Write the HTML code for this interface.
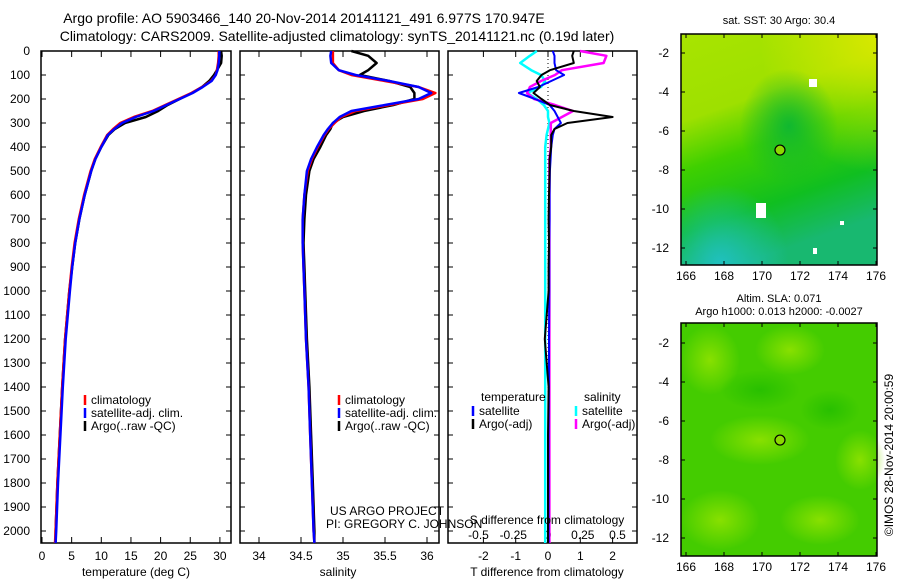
<!DOCTYPE html>
<html><head><meta charset="utf-8">
<style>
html,body{margin:0;padding:0;background:#fff;}
svg{display:block;font-family:"Liberation Sans",sans-serif;}
</style></head>
<body>
<svg id="fig" width="900" height="580" viewBox="0 0 900 580" xmlns="http://www.w3.org/2000/svg">
<defs>
<linearGradient id="sstg" x1="0" y1="0" x2="0.3" y2="1">
<stop offset="0" stop-color="#a8e400"/><stop offset="0.35" stop-color="#9ee000"/><stop offset="0.55" stop-color="#3fd000"/><stop offset="0.8" stop-color="#10bf20"/><stop offset="1" stop-color="#18b870"/>
</linearGradient>
<radialGradient id="sstTR" cx="1" cy="0" r="0.6"><stop offset="0" stop-color="#d8e800"/><stop offset="1" stop-color="#d8e800" stop-opacity="0"/></radialGradient>
<radialGradient id="sstC" cx="0.55" cy="0.4" r="0.25"><stop offset="0" stop-color="#10b830"/><stop offset="1" stop-color="#10b830" stop-opacity="0"/></radialGradient>
<radialGradient id="sstBL" cx="0.2" cy="1" r="0.35"><stop offset="0" stop-color="#20c0c0"/><stop offset="1" stop-color="#20c0c0" stop-opacity="0"/></radialGradient>
<radialGradient id="slaBlob" cx="0.5" cy="0.5" r="0.5"><stop offset="0" stop-color="#88e000"/><stop offset="1" stop-color="#88e000" stop-opacity="0"/></radialGradient>
<radialGradient id="slaDark" cx="0.5" cy="0.5" r="0.5"><stop offset="0" stop-color="#28c000"/><stop offset="1" stop-color="#28c000" stop-opacity="0"/></radialGradient>
</defs>

<text x="304" y="23" font-size="14" text-anchor="middle">Argo profile: AO 5903466_140 20-Nov-2014 20141121_491 6.977S 170.947E</text>
<text x="337" y="41" font-size="14" text-anchor="middle">Climatology: CARS2009. Satellite-adjusted climatology: synTS_20141121.nc (0.19d later)</text>

<g id="panels"></g>

<g>
<rect x="681" y="34" width="196" height="231" fill="url(#sstg)"/>
<rect x="681" y="34" width="196" height="231" fill="url(#sstTR)"/>
<rect x="681" y="34" width="196" height="231" fill="url(#sstC)"/>
<rect x="681" y="34" width="196" height="231" fill="url(#sstBL)"/>
<rect x="809" y="79" width="8" height="8" fill="#fff"/>
<rect x="756" y="203" width="10" height="15" fill="#fff"/>
<rect x="813" y="248" width="4" height="6" fill="#fff"/>
<rect x="840" y="221" width="4" height="4" fill="#fff"/>
<text x="779" y="24" font-size="11" text-anchor="middle">sat. SST: 30 Argo: 30.4</text>
</g>
<g>
<rect x="681" y="323" width="196" height="233" fill="#44cc00"/>
<ellipse cx="710" cy="360" rx="30" ry="35" fill="url(#slaBlob)"/>
<ellipse cx="790" cy="350" rx="35" ry="25" fill="url(#slaBlob)"/>
<ellipse cx="760" cy="440" rx="50" ry="25" fill="url(#slaBlob)"/>
<ellipse cx="860" cy="460" rx="25" ry="30" fill="url(#slaBlob)"/>
<ellipse cx="720" cy="520" rx="40" ry="30" fill="url(#slaBlob)"/>
<ellipse cx="820" cy="520" rx="40" ry="25" fill="url(#slaBlob)"/>
<ellipse cx="760" cy="390" rx="40" ry="20" fill="url(#slaDark)"/>
<ellipse cx="830" cy="410" rx="30" ry="20" fill="url(#slaDark)"/>
<text x="779" y="302" font-size="11" text-anchor="middle">Altim. SLA: 0.071</text>
<text x="779" y="315" font-size="11" text-anchor="middle">Argo h1000: 0.013 h2000: -0.0027</text>
</g>
<g id="maps"></g>

<text x="330" y="515" font-size="12">US ARGO PROJECT</text>
<text x="326" y="528" font-size="12">PI: GREGORY C. JOHNSON</text>
<text transform="translate(893,455) rotate(-90)" font-size="12" text-anchor="middle">©IMOS 28-Nov-2014 20:00:59</text>
</svg>

<script>
const depths = [0,20,50,80,100,125,150,175,200,225,250,275,300,325,350,400,450,500,600,700,800,900,1000,1200,1400,1600,1800,2000,2050];
const tempClim = [29.8,29.8,29.7,29.5,29.3,28.5,27.0,25.2,23.0,20.8,18.6,15.5,13.2,12.0,11.0,9.9,8.9,8.2,7.1,6.2,5.5,5.0,4.6,3.9,3.4,3.0,2.6,2.3,2.2];
const tempSat = [29.9,29.9,29.8,29.6,29.3,28.6,27.1,25.4,23.2,21.0,18.8,15.8,13.5,12.2,11.1,10.0,9.0,8.3,7.2,6.3,5.6,5.1,4.7,4.0,3.5,3.1,2.7,2.4,2.3];
const tempArgo = [30.2,30.3,30.2,29.5,29.0,28.2,27.0,25.3,23.2,21.2,19.6,17.5,14.0,12.3,11.2,10.0,9.0,8.3,7.2,6.3,5.6,5.1,4.6,3.9,3.4,3.0,2.6,2.3,2.3];
const salClim = [34.88,34.88,34.88,34.95,35.1,35.5,35.9,36.1,35.95,35.55,35.15,34.98,34.9,34.83,34.78,34.7,34.63,34.58,34.54,34.52,34.52,34.53,34.54,34.56,34.59,34.61,34.63,34.65,34.66];
const salSat = [34.86,34.85,34.86,34.95,35.15,35.55,35.9,36.05,35.9,35.5,35.1,34.96,34.88,34.82,34.77,34.69,34.62,34.57,34.54,34.52,34.52,34.53,34.54,34.56,34.59,34.61,34.63,34.65,34.66];
const salArgo = [35.1,35.3,35.4,35.3,35.2,35.55,35.8,35.85,35.85,35.6,35.25,35.0,34.88,34.85,34.8,34.73,34.65,34.6,34.56,34.54,34.53,34.54,34.55,34.57,34.6,34.62,34.64,34.66,34.66];
const tDiffSat = [0.15,0.2,0.2,0.25,0.5,0.1,-0.3,-0.9,-0.4,0.05,0.2,0.3,0.4,0.2,0.15,0.1,0.08,0.06,0.05,0.05,0.04,0.04,0.04,0.03,0.03,0.02,0.02,0.02,0.02];
const tDiffArgo = [0.8,0.75,0.8,0.06,-0.2,-0.35,-0.25,-0.45,-0.2,0.06,0.8,2.0,0.6,0.2,0.1,0.1,0.05,0.05,0.03,0.02,0.03,0.02,0.02,-0.1,0.02,0.0,0.0,0.0,0.0];
const sDiffSat = [-0.08,-0.13,-0.2,-0.12,-0.05,-0.02,-0.05,-0.15,-0.08,-0.03,0.0,0.0,0.01,0.0,-0.01,-0.02,-0.02,-0.02,-0.02,-0.02,-0.02,-0.02,-0.02,-0.02,-0.02,-0.02,-0.02,-0.02,-0.02];
const sDiffArgo = [0.23,0.42,0.4,0.1,0.05,-0.05,-0.13,-0.15,-0.1,0.05,0.18,0.1,0.02,0.02,0.02,0.02,0.01,0.01,0.01,0.01,0.01,0.01,0.01,0.01,0.01,0.01,0.01,0.01,0.01];
const depthTicks = [0,100,200,300,400,500,600,700,800,900,1000,1100,1200,1300,1400,1500,1600,1700,1800,1900,2000];
const tempTicks = [0,5,10,15,20,25,30];
const salTicks = [34,34.5,35,35.5,36];
const tDiffTicks = [-2,-1,0,1,2];
const sDiffTicks = [-0.5,-0.25,0,0.25,0.5];
const sDiffTickLabels = ['-0.5','-0.25','0','0.25','0.5'];
const lonTicks = [166,168,170,172,174,176];
const latTicks = [-2,-4,-6,-8,-10,-12];
const argoLon = 170.947, argoLat = -6.977;

const NS = 'http://www.w3.org/2000/svg';
const yD = d => 51 + d * 0.24;
const xT = t => 42 + t * 5.93;
const xS = s => 259 + (s - 34) * 84;
const xTD = v => 548 + v * 32.3;
const xSD = v => 548 + v * 139;
const root = document.getElementById('panels');
function mk(tag, attrs, parent){ const e=document.createElementNS(NS,tag); for(const k in attrs) e.setAttribute(k,attrs[k]); (parent||root).appendChild(e); return e; }

function frame(x0,x1,name){
  const g = mk('g',{});
  
  
  mk('rect',{x:x0,y:51,width:x1-x0,height:492,fill:'none',stroke:'#000','stroke-width':1.5},g);
  depthTicks.forEach(d=>{ mk('line',{x1:x0,x2:x0+5,y1:yD(d),y2:yD(d),stroke:'#000'},g); mk('line',{x1:x1-5,x2:x1,y1:yD(d),y2:yD(d),stroke:'#000'},g); });
  return g;
}
function xticks(g,ticks,labels,fx,y){
  ticks.forEach((t,i)=>{ const x=fx(t);
    mk('line',{x1:x,x2:x,y1:51,y2:57,stroke:'#000'},g); mk('line',{x1:x,x2:x,y1:537,y2:543,stroke:'#000'},g);
    const tx=mk('text',{x:x,y:y,'font-size':12,'text-anchor':'middle'},g); tx.textContent=labels[i];
    
    
  });
}
function line(vals,fx,color,w,name,g){
  const pts = vals.map((v,i)=>fx(v).toFixed(1)+','+yD(depths[i]).toFixed(1)).join(' ');
  const p = mk('polyline',{points:pts,fill:'none',stroke:color,'stroke-width':w,'stroke-linejoin':'round'},g);
  
  
}
function legend(g,x,y,items){
  items.forEach((it,i)=>{ const yy=y+i*13;
    mk('line',{x1:x,x2:x,y1:yy-9,y2:yy+1,stroke:it[1],'stroke-width':2.5},g);
    const t=mk('text',{x:x+6,y:yy,'font-size':12},g); t.textContent=it[0];
    
    
  });
}

const g1 = frame(41,231,'temperature-panel');
depthTicks.forEach(d=>{ const t=mk('text',{x:30,y:yD(d)+4,'font-size':12,'text-anchor':'end'},g1); t.textContent=d;
  
   });
xticks(g1,tempTicks,tempTicks.map(String),xT,560);
line(tempArgo,xT,'#000',2.5,'temp-argo-line',g1);
line(tempClim,xT,'#f00',2.5,'temp-climatology-line',g1);
line(tempSat,xT,'#00f',2.5,'temp-satellite-line',g1);
legend(g1,85,404,[['climatology','#f00'],['satellite-adj. clim.','#00f'],['Argo(..raw -QC)','#000']]);
const l1=mk('text',{x:136,y:576,'font-size':12,'text-anchor':'middle'},g1); l1.textContent='temperature (deg C)';



const g2 = frame(240,439,'salinity-panel');
xticks(g2,salTicks,['34','34.5','35','35.5','36'],xS,560);
line(salArgo,xS,'#000',2.5,'sal-argo-line',g2);
line(salClim,xS,'#f00',2.5,'sal-climatology-line',g2);
line(salSat,xS,'#00f',2.5,'sal-satellite-line',g2);
legend(g2,339,404,[['climatology','#f00'],['satellite-adj. clim.','#00f'],['Argo(..raw -QC)','#000']]);
const l2=mk('text',{x:338,y:576,'font-size':12,'text-anchor':'middle'},g2); l2.textContent='salinity';



const g3 = frame(448,637,'difference-panel');
xticks(g3,tDiffTicks,tDiffTicks.map(String),xTD,560);
sDiffTicks.forEach((t,i)=>{ const tx=mk('text',{x:xSD(t),y:539,'font-size':12,'text-anchor':'middle'},g3); tx.textContent=sDiffTickLabels[i];
  
   });
mk('line',{x1:xTD(0),x2:xTD(0),y1:51,y2:543,stroke:'#000','stroke-dasharray':'1,3'},g3);
line(sDiffSat,xSD,'#0ff',2.5,'s-diff-satellite-line',g3);
line(sDiffArgo,xSD,'#f0f',2.5,'s-diff-argo-line',g3);
line(tDiffSat,xTD,'#00f',2,'t-diff-satellite-line',g3);
line(tDiffArgo,xTD,'#000',2,'t-diff-argo-line',g3);
const lt=mk('text',{x:481,y:401,'font-size':12},g3); lt.textContent='temperature';


const ls=mk('text',{x:584,y:401,'font-size':12},g3); ls.textContent='salinity';


legend(g3,473,415,[['satellite','#00f'],['Argo(-adj)','#000']]);
legend(g3,576,415,[['satellite','#0ff'],['Argo(-adj)','#f0f']]);
const l3=mk('text',{x:547,y:524,'font-size':12,'text-anchor':'middle'},g3); l3.textContent='S difference from climatology';


const l4=mk('text',{x:547,y:576,'font-size':12,'text-anchor':'middle'},g3); l4.textContent='T difference from climatology';



const mroot = document.getElementById('maps');
function mapFrame(y0,y1,latTop,pxPerLat,name){
  const g = mk('g',{},mroot);
  
  
  const xL = lon => 686 + (lon-166)*19;
  const yL = lat => latTop + (-2-lat)*pxPerLat;
  mk('rect',{x:681,y:y0,width:196,height:y1-y0,fill:'none',stroke:'#000','stroke-width':1.5},g);
  lonTicks.forEach(l=>{ const x=xL(l);
    mk('line',{x1:x,x2:x,y1:y0,y2:y0+4,stroke:'#000'},g); mk('line',{x1:x,x2:x,y1:y1-4,y2:y1,stroke:'#000'},g);
    const t=mk('text',{x:x,y:y1+15,'font-size':12,'text-anchor':'middle'},g); t.textContent=l;
    
     });
  latTicks.forEach(l=>{ const y=yL(l);
    mk('line',{x1:681,x2:685,y1:y,y2:y,stroke:'#000'},g); mk('line',{x1:873,x2:877,y1:y,y2:y,stroke:'#000'},g);
    const t=mk('text',{x:669,y:y+4,'font-size':12,'text-anchor':'end'},g); t.textContent=l;
    
     });
  const c = mk('circle',{cx:xL(argoLon),cy:yL(argoLat),r:5,fill:'#8bd800',stroke:'#000','stroke-width':1.2},g);
  
  
}
mapFrame(34,265,53,19.5,'sst-map-axes');
mapFrame(323,556,343,19.5,'sla-map-axes');
</script>
</body></html>
